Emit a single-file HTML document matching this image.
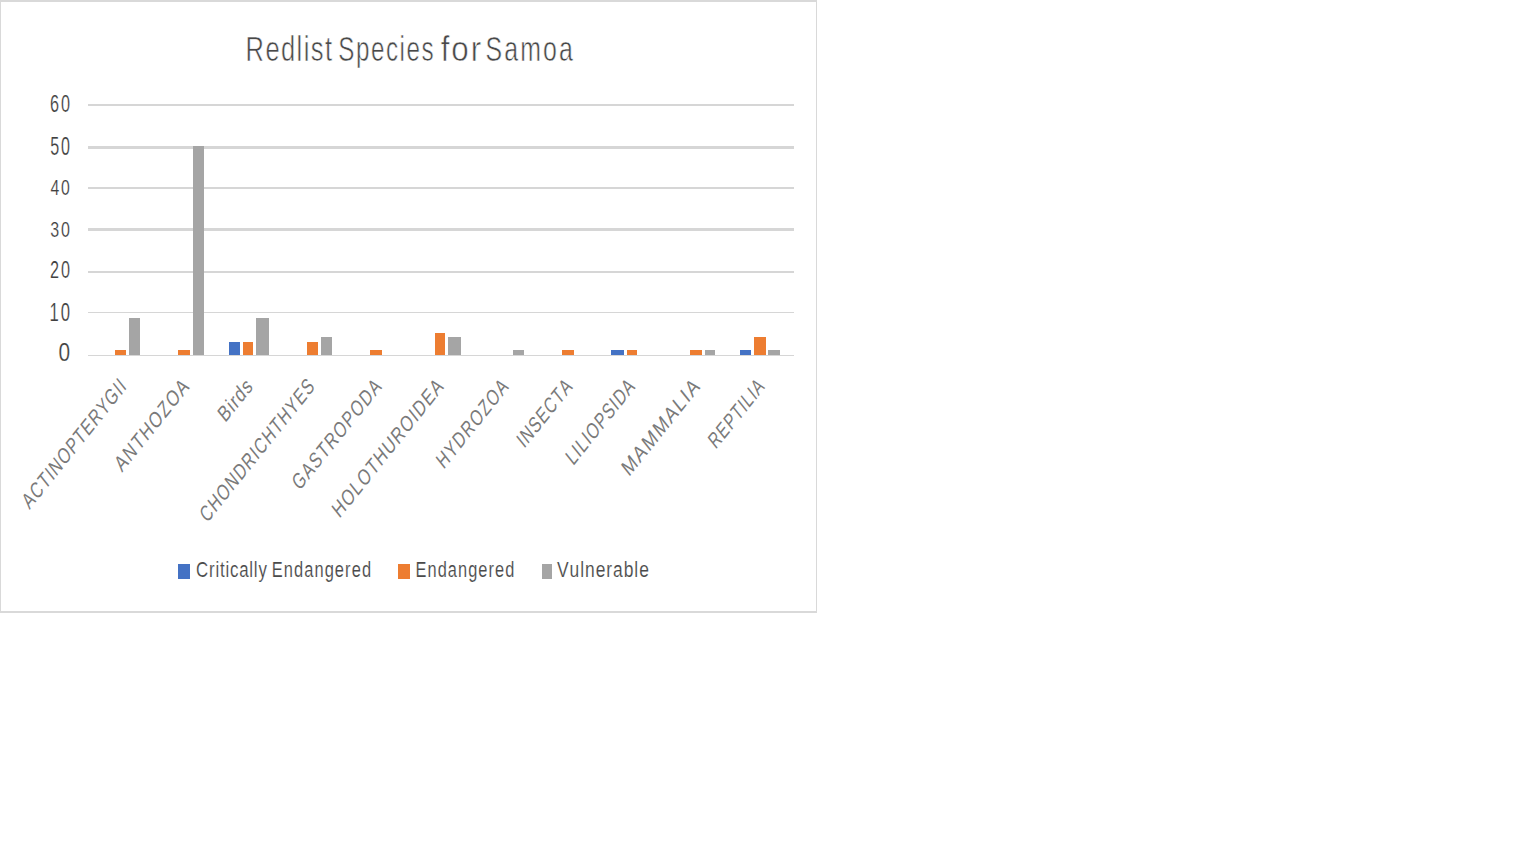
<!DOCTYPE html><html><head><meta charset="utf-8"><title>Redlist Species for Samoa</title><style>html,body{margin:0;padding:0;background:#fff;overflow:hidden}svg{display:block}text{font-family:"Liberation Sans",sans-serif;font-kerning:none}</style></head><body>
<svg width="1536" height="864" viewBox="0 0 1536 864">
<rect x="0" y="0" width="1536" height="864" fill="#fff"/>
<g shape-rendering="crispEdges">
<rect x="0" y="0" width="817" height="2" fill="#D9D9D9"/>
<rect x="0" y="611" width="817" height="2" fill="#D9D9D9"/>
<rect x="0" y="0" width="1" height="613" fill="#D9D9D9"/>
<rect x="816" y="0" width="1" height="613" fill="#D9D9D9"/>
<rect x="88" y="104" width="706" height="2" fill="#D6D6D6"/>
<rect x="88" y="146" width="706" height="3" fill="#D6D6D6"/>
<rect x="88" y="187" width="706" height="2" fill="#D6D6D6"/>
<rect x="88" y="228" width="706" height="3" fill="#D6D6D6"/>
<rect x="88" y="271" width="706" height="2" fill="#D6D6D6"/>
<rect x="88" y="312" width="706" height="1" fill="#D6D6D6"/>
<rect x="88" y="355" width="706" height="1" fill="#D6D6D6"/>
<rect x="115" y="350" width="11" height="5" fill="#ED7D31"/>
<rect x="129" y="318" width="11" height="37" fill="#A5A5A5"/>
<rect x="178" y="350" width="12" height="5" fill="#ED7D31"/>
<rect x="193" y="146" width="11" height="209" fill="#A5A5A5"/>
<rect x="229" y="342" width="11" height="13" fill="#4472C4"/>
<rect x="243" y="342" width="10" height="13" fill="#ED7D31"/>
<rect x="256" y="318" width="13" height="37" fill="#A5A5A5"/>
<rect x="307" y="342" width="11" height="13" fill="#ED7D31"/>
<rect x="321" y="337" width="11" height="18" fill="#A5A5A5"/>
<rect x="370" y="350" width="12" height="5" fill="#ED7D31"/>
<rect x="435" y="333" width="10" height="22" fill="#ED7D31"/>
<rect x="448" y="337" width="13" height="18" fill="#A5A5A5"/>
<rect x="513" y="350" width="11" height="5" fill="#A5A5A5"/>
<rect x="562" y="350" width="12" height="5" fill="#ED7D31"/>
<rect x="611" y="350" width="13" height="5" fill="#4472C4"/>
<rect x="627" y="350" width="10" height="5" fill="#ED7D31"/>
<rect x="690" y="350" width="12" height="5" fill="#ED7D31"/>
<rect x="705" y="350" width="10" height="5" fill="#A5A5A5"/>
<rect x="740" y="350" width="11" height="5" fill="#4472C4"/>
<rect x="754" y="337" width="12" height="18" fill="#ED7D31"/>
<rect x="768" y="350" width="12" height="5" fill="#A5A5A5"/>
<rect x="178" y="564" width="12" height="15" fill="#4472C4"/>
<rect x="398" y="564" width="12" height="15" fill="#ED7D31"/>
<rect x="542" y="564" width="10" height="15" fill="#A5A5A5"/>
</g>
<text transform="translate(245.61,61.00) scale(0.7304,1)" font-size="34.92" fill="#484848" textLength="118.24" lengthAdjust="spacing" stroke="#fff" stroke-width="0.6">Redlist</text>
<text transform="translate(338.21,61.00) scale(0.6932,1)" font-size="34.92" fill="#484848" textLength="137.71" lengthAdjust="spacing" stroke="#fff" stroke-width="0.6">Species</text>
<text transform="translate(440.66,61.00) scale(0.8978,1)" font-size="34.92" fill="#484848" textLength="45.16" lengthAdjust="spacing" stroke="#fff" stroke-width="0.6">for</text>
<text transform="translate(485.38,61.00) scale(0.7136,1)" font-size="34.92" fill="#484848" textLength="122.75" lengthAdjust="spacing" stroke="#fff" stroke-width="0.6">Samoa</text>
<text transform="translate(49.99,111.80) scale(0.6847,1)" font-size="23.74" fill="#404040" textLength="29.11" lengthAdjust="spacing" stroke="#fff" stroke-width="0.2">60</text>
<text transform="translate(50.16,154.80) scale(0.6404,1)" font-size="25.14" fill="#404040" textLength="30.85" lengthAdjust="spacing" stroke="#fff" stroke-width="0.2">50</text>
<text transform="translate(50.45,194.80) scale(0.7082,1)" font-size="22.35" fill="#404040" textLength="27.47" lengthAdjust="spacing" stroke="#fff" stroke-width="0.2">40</text>
<text transform="translate(50.19,236.80) scale(0.7191,1)" font-size="22.35" fill="#404040" textLength="27.43" lengthAdjust="spacing" stroke="#fff" stroke-width="0.2">30</text>
<text transform="translate(49.99,277.80) scale(0.6847,1)" font-size="23.74" fill="#404040" textLength="29.11" lengthAdjust="spacing" stroke="#fff" stroke-width="0.2">20</text>
<text transform="translate(49.53,320.80) scale(0.6635,1)" font-size="25.14" fill="#404040" textLength="30.75" lengthAdjust="spacing" stroke="#fff" stroke-width="0.2">10</text>
<text transform="translate(58.49,360.80) scale(0.8304,1)" font-size="25.14" fill="#404040" textLength="13.98" lengthAdjust="spacing" stroke="#fff" stroke-width="0.2">0</text>
<text transform="translate(127.2,388.0) scale(0.8,1) rotate(-45) scale(0.8010,1)" text-anchor="end" font-size="23" fill="#7a7a7a" textLength="215.4" lengthAdjust="spacing">ACTINOPTERYGII</text>
<text transform="translate(189.9,388.0) scale(0.8,1) rotate(-45) scale(0.8445,1)" text-anchor="end" font-size="23" fill="#7a7a7a" textLength="142.0" lengthAdjust="spacing">ANTHOZOA</text>
<text transform="translate(253.5,388.0) scale(0.8,1) rotate(-45) scale(0.8553,1)" text-anchor="end" font-size="23" fill="#7a7a7a" textLength="58.2" lengthAdjust="spacing">Birds</text>
<text transform="translate(315.5,388.0) scale(0.8,1) rotate(-45) scale(0.7934,1)" text-anchor="end" font-size="23" fill="#7a7a7a" textLength="241.4" lengthAdjust="spacing">CHONDRICHTHYES</text>
<text transform="translate(382.2,388.0) scale(0.8,1) rotate(-45) scale(0.8107,1)" text-anchor="end" font-size="23" fill="#7a7a7a" textLength="180.3" lengthAdjust="spacing">GASTROPODA</text>
<text transform="translate(444.2,388.0) scale(0.8,1) rotate(-45) scale(0.8299,1)" text-anchor="end" font-size="23" fill="#7a7a7a" textLength="222.9" lengthAdjust="spacing">HOLOTHUROIDEA</text>
<text transform="translate(509.2,388.0) scale(0.8,1) rotate(-45) scale(0.7989,1)" text-anchor="end" font-size="23" fill="#7a7a7a" textLength="144.8" lengthAdjust="spacing">HYDROZOA</text>
<text transform="translate(573.1,388.0) scale(0.8,1) rotate(-45) scale(0.7928,1)" text-anchor="end" font-size="23" fill="#7a7a7a" textLength="108.9" lengthAdjust="spacing">INSECTA</text>
<text transform="translate(635.7,388.0) scale(0.8,1) rotate(-45) scale(0.7946,1)" text-anchor="end" font-size="23" fill="#7a7a7a" textLength="139.2" lengthAdjust="spacing">LILIOPSIDA</text>
<text transform="translate(700.5,388.0) scale(0.8,1) rotate(-45) scale(0.9273,1)" text-anchor="end" font-size="23" fill="#7a7a7a" textLength="136.3" lengthAdjust="spacing">MAMMALIA</text>
<text transform="translate(765.3,388.0) scale(0.8,1) rotate(-45) scale(0.7693,1)" text-anchor="end" font-size="23" fill="#7a7a7a" textLength="113.6" lengthAdjust="spacing">REPTILIA</text>
<text transform="translate(196.06,577.00) scale(0.7556,1)" font-size="22.35" fill="#4a4a4a" textLength="93.67" lengthAdjust="spacing" stroke="#fff" stroke-width="0.15">Critically</text>
<text transform="translate(271.65,577.00) scale(0.7367,1)" font-size="22.35" fill="#4a4a4a" textLength="134.94" lengthAdjust="spacing" stroke="#fff" stroke-width="0.15">Endangered</text>
<text transform="translate(415.46,577.00) scale(0.7329,1)" font-size="22.35" fill="#4a4a4a" textLength="134.94" lengthAdjust="spacing" stroke="#fff" stroke-width="0.15">Endangered</text>
<text transform="translate(557.03,577.00) scale(0.7805,1)" font-size="22.35" fill="#4a4a4a" textLength="117.68" lengthAdjust="spacing" stroke="#fff" stroke-width="0.15">Vulnerable</text>
</svg></body></html>
